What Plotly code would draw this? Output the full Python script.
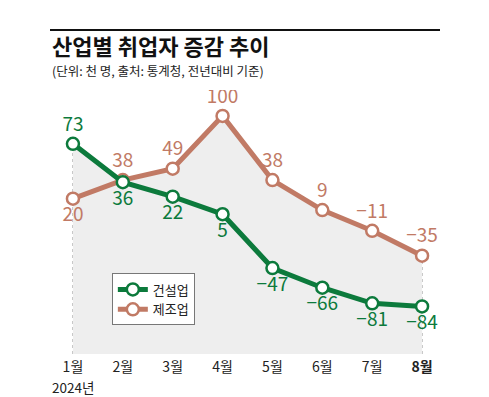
import numpy as np
import plotly.graph_objects as go

months = ["1월", "2월", "3월", "4월", "5월", "6월", "7월", "8월"]
construction = [73, 36, 22, 5, -47, -66, -81, -84]
manufacturing = [20, 38, 49, 100, 38, 9, -11, -35]
series_names = ["건설업", "제조업"]
year_label = "2024년"
title = "산업별 취업자 증감 추이"
subtitle = "(단위: 천 명, 출처: 통계청, 전년대비 기준)"

GREEN = "#0c7a3c"
BROWN = "#c17a65"
FILL = "#eeeeee"
FONT = "Noto Sans CJK KR"
YMIN, YMAX = -130, 125

x = np.arange(len(months), dtype=float)
c = np.array(construction, dtype=float)
m = np.array(manufacturing, dtype=float)

# upper envelope of both series (with crossing points)
ex, ey = [], []
for i in range(len(x)):
    ex.append(x[i]); ey.append(max(c[i], m[i]))
    if i < len(x) - 1:
        d0 = c[i] - m[i]; d1 = c[i + 1] - m[i + 1]
        if d0 * d1 < 0:
            t = d0 / (d0 - d1)
            ex.append(x[i] + t); ey.append(c[i] + t * (c[i + 1] - c[i]))

fig = go.Figure()
fig.add_trace(go.Scatter(x=ex + ex[::-1], y=ey + [YMIN] * len(ey), fill="toself",
                         fillcolor=FILL, line=dict(width=0), mode="none",
                         showlegend=False, hoverinfo="skip"))

for i in range(len(x)):
    fig.add_shape(type="line", x0=x[i], x1=x[i], y0=YMIN, y1=max(c[i], m[i]),
                  xref="x", yref="y", line=dict(color="#9a9a9a", width=1, dash="dot"),
                  layer="below")

def fmt(v):
    return ("−" + str(abs(v))) if v < 0 else str(v)

fig.add_trace(go.Scatter(
    x=x, y=m, mode="lines+markers+text", name=series_names[1],
    line=dict(color=BROWN, width=5),
    marker=dict(size=12, color="white", line=dict(color=BROWN, width=2.5)),
    text=[fmt(v) for v in manufacturing],
    textposition=["bottom center"] + ["top center"] * 7,
    textfont=dict(family=FONT, size=19, color=BROWN),
))
fig.add_trace(go.Scatter(
    x=x, y=c, mode="lines+markers+text", name=series_names[0],
    line=dict(color=GREEN, width=5),
    marker=dict(size=12, color="white", line=dict(color=GREEN, width=2.5)),
    text=[fmt(v) for v in construction],
    textposition=["top center"] + ["bottom center"] * 7,
    textfont=dict(family=FONT, size=19, color=GREEN),
))

ticktext = months[:-1] + ["<b>" + months[-1] + "</b>"]

fig.update_layout(
    width=489, height=397,
    margin=dict(l=48, r=42, t=90, b=43),
    paper_bgcolor="white", plot_bgcolor="white",
    font=dict(family=FONT, color="#222"),
    xaxis=dict(range=[-0.5, 7.5], tickvals=x, ticktext=ticktext, showgrid=False,
               zeroline=False, showline=False, ticks="", tickfont=dict(size=14, color="#222"),
               ticklabelstandoff=3, fixedrange=True),
    yaxis=dict(range=[YMIN, YMAX], visible=False, fixedrange=True),
    legend=dict(x=0.16, y=0.305, xanchor="left", yanchor="top", traceorder="reversed",
                bgcolor="white", bordercolor="#777", borderwidth=1,
                font=dict(size=13, color="#222"), itemwidth=30, tracegroupgap=0),
    showlegend=True,
)

fig.add_shape(type="line", xref="paper", yref="paper", x0=(50 - 48) / 399, x1=(440 - 48) / 399,
              y0=(354 - 30) / 264, y1=(354 - 30) / 264, line=dict(color="#111", width=2))
fig.add_annotation(text="<b>" + title + "</b>", xref="paper", yref="paper",
                   x=(50 - 48) / 399, y=(354 - 45) / 264, xanchor="left", yanchor="middle",
                   showarrow=False, font=dict(size=22, color="#111", family=FONT))
fig.add_annotation(text=subtitle, xref="paper", yref="paper",
                   x=(50 - 48) / 399, y=(354 - 70) / 264, xanchor="left", yanchor="middle",
                   showarrow=False, font=dict(size=12.5, color="#222", family=FONT))
fig.add_annotation(text=year_label, xref="x", yref="paper", x=0, y=(354 - 387) / 264,
                   xanchor="center", yanchor="middle", showarrow=False,
                   font=dict(size=13.5, color="#222", family=FONT))

fig.write_html("out.html")
